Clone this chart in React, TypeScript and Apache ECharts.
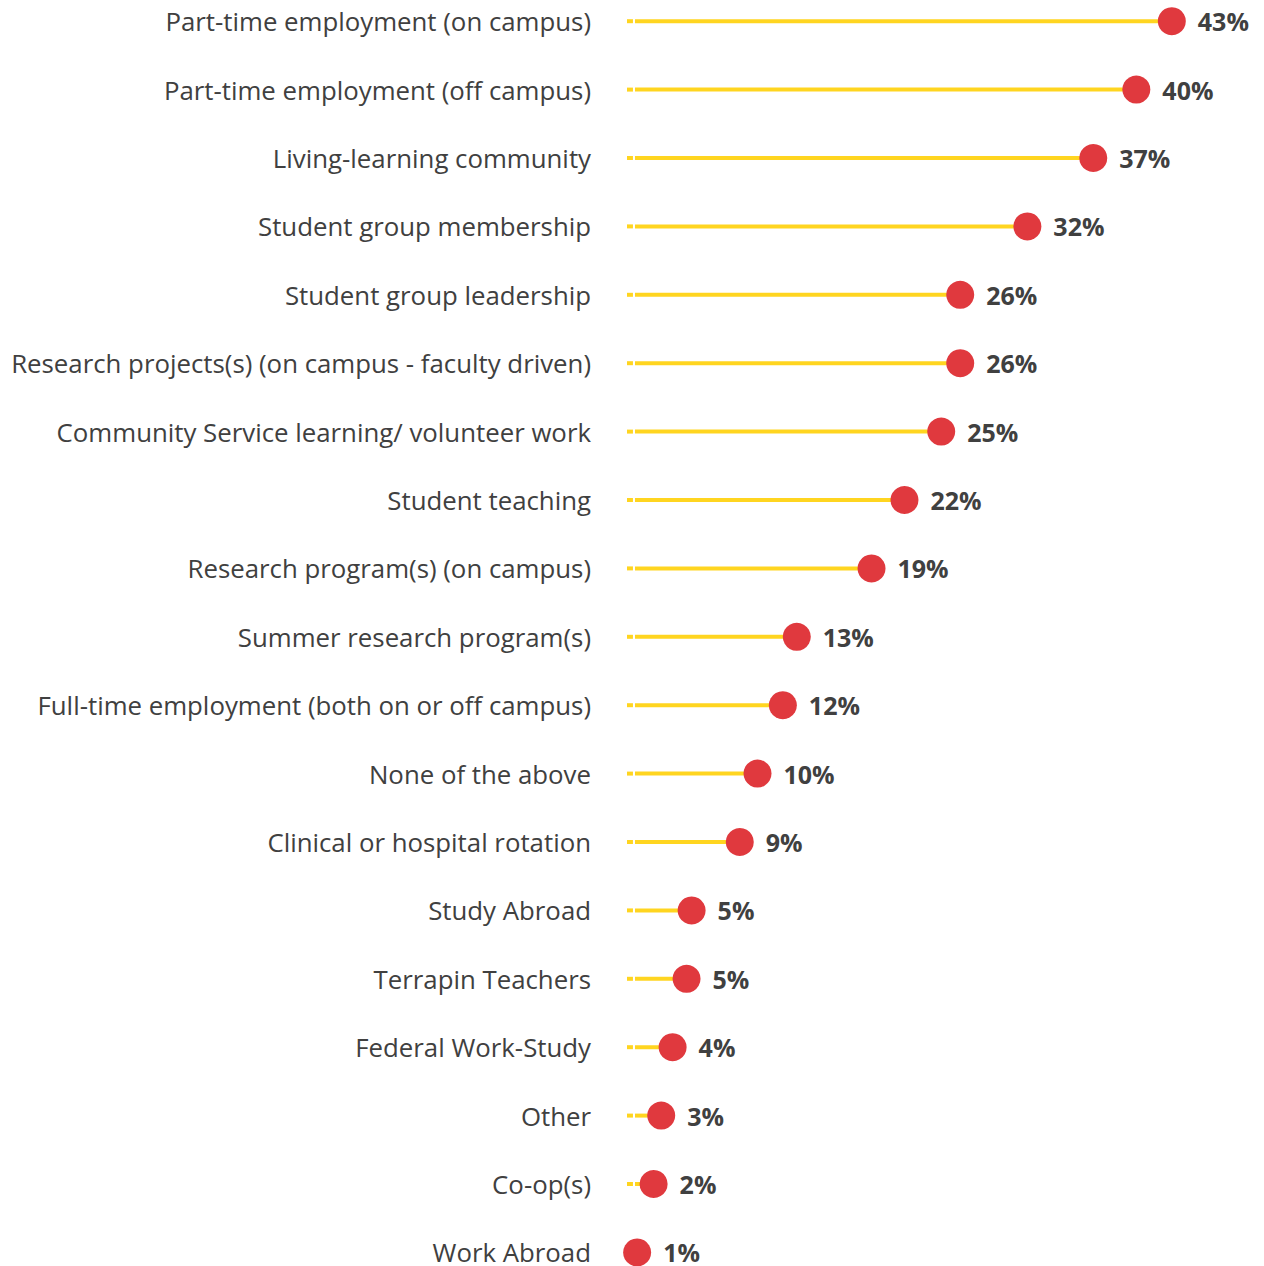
import React, { useEffect, useRef } from "react";
import * as echarts from "echarts";

const categories = [
  "Part-time employment (on campus)",
  "Part-time employment (off campus)",
  "Living-learning community",
  "Student group membership",
  "Student group leadership",
  "Research projects(s) (on campus - faculty driven)",
  "Community Service learning/ volunteer work",
  "Student teaching",
  "Research program(s) (on campus)",
  "Summer research program(s)",
  "Full-time employment (both on or off campus)",
  "None of the above",
  "Clinical or hospital rotation",
  "Study Abroad",
  "Terrapin Teachers",
  "Federal Work-Study",
  "Other",
  "Co-op(s)",
  "Work Abroad",
];

const values = [43, 40.2, 36.8, 31.6, 26.3, 26.3, 24.8, 21.9, 19.3, 13.4, 12.3, 10.3, 8.9, 5.1, 4.7, 3.6, 2.7, 2.1, 0.8];

const STUB = 0.47;
const GAP = 0.16;

export default function App() {
  const ref = useRef<HTMLDivElement>(null);
  useEffect(() => {
    if (!ref.current) return;
    const chart = echarts.init(ref.current, undefined, { renderer: "svg" });
    const cats = [...categories].reverse();
    const vals = [...values].reverse();
    chart.setOption({
      animation: false,
      grid: { left: 627, width: 633.5, top: 0, height: 1299.6, containLabel: false },
      xAxis: {
        type: "value",
        min: 0,
        max: 50,
        show: false,
      },
      yAxis: {
        type: "category",
        data: cats,
        axisLine: { show: false },
        axisTick: { show: false },
        splitLine: { show: false },
        axisLabel: {
          margin: 36,
          fontFamily: "Open Sans",
          fontSize: 25.8,
          color: "#404040",
        },
      },
      series: [
        {
          type: "bar",
          stack: "line",
          barWidth: 4,
          data: vals.map(() => STUB),
          itemStyle: { color: "#FFD520" },
          silent: true,
        },
        {
          type: "bar",
          stack: "line",
          barWidth: 4,
          data: vals.map(() => GAP),
          itemStyle: { color: "rgba(0,0,0,0)" },
          silent: true,
        },
        {
          type: "bar",
          stack: "line",
          barWidth: 4,
          data: vals.map((v) => Math.max(v - STUB - GAP, 0)),
          itemStyle: { color: "#FFD520" },
          silent: true,
        },
        {
          type: "scatter",
          data: vals.map((v, i) => [v, i]),
          symbol: "circle",
          symbolSize: 28,
          itemStyle: { color: "#E0393E", opacity: 1 },
          label: {
            show: true,
            position: "right",
            distance: 12,
            formatter: (p: any) => Math.round(p.value[0]) + "%",
            fontFamily: "Open Sans",
            fontWeight: "bold",
            fontSize: 25,
            color: "#404040",
          },
          z: 5,
        },
      ],
    });
    return () => chart.dispose();
  }, []);
  return (
    <div
      ref={ref}
      style={{ position: "fixed", left: 0, top: -13.2, width: 1264, height: 1300, background: "#fff" }}
    />
  );
}
